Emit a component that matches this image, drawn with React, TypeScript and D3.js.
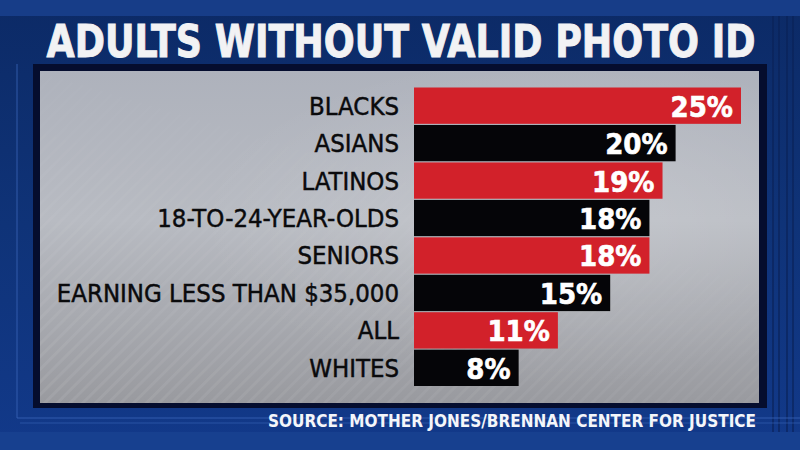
import React from "react";
import * as d3 from "d3";

const categories = [
  "BLACKS",
  "ASIANS",
  "LATINOS",
  "18-TO-24-YEAR-OLDS",
  "SENIORS",
  "EARNING LESS THAN $35,000",
  "ALL",
  "WHITES",
];
const values = [25, 20, 19, 18, 18, 15, 11, 8];
const valueLabels = ["25%", "20%", "19%", "18%", "18%", "15%", "11%", "8%"];
const title = "ADULTS WITHOUT VALID PHOTO ID";
const source = "SOURCE: MOTHER JONES/BRENNAN CENTER FOR JUSTICE";

const W = 800;
const H = 450;
const RED = "#d2212a";
const BLACK = "#050508";
const FONT = "'DejaVu Sans Condensed', 'DejaVu Sans', sans-serif";

export default function App() {
  const x = d3.scaleLinear().domain([0, 25]).range([414, 741]);
  const y = d3
    .scaleBand<string>()
    .domain(categories)
    .range([87.5, 386])
    .paddingInner(0.03);

  return (
    <svg
      width={W}
      height={H}
      viewBox={`0 0 ${W} ${H}`}
      style={{ position: "absolute", left: 0, top: 0, display: "block" }}
    >
      <defs>
        <linearGradient id="bg" x1="0" y1="0" x2="0" y2="1">
          <stop offset="0" stopColor="#0c2a66" />
          <stop offset="0.5" stopColor="#0f3378" />
          <stop offset="1" stopColor="#12398a" />
        </linearGradient>
        <linearGradient id="panel" x1="0" y1="0" x2="0" y2="1">
          <stop offset="0" stopColor="#aeb2bc" />
          <stop offset="0.45" stopColor="#b8bbc2" />
          <stop offset="1" stopColor="#999a9f" />
        </linearGradient>
        <radialGradient id="hl" cx="0.72" cy="0.45" r="0.5">
          <stop offset="0" stopColor="#ffffff" stopOpacity="0.18" />
          <stop offset="1" stopColor="#ffffff" stopOpacity="0" />
        </radialGradient>
        <pattern
          id="stripes"
          width="9"
          height="9"
          patternUnits="userSpaceOnUse"
          patternTransform="rotate(45)"
        >
          <rect width="3" height="9" fill="#ffffff" opacity="0.08" />
        </pattern>
        <linearGradient id="stripeMask" x1="0" y1="1" x2="0.55" y2="0.15">
          <stop offset="0" stopColor="#fff" stopOpacity="1" />
          <stop offset="1" stopColor="#fff" stopOpacity="0" />
        </linearGradient>
        <mask id="sm">
          <rect x="40" y="71" width="719" height="332" fill="url(#stripeMask)" />
        </mask>
      </defs>

      {/* background */}
      <rect x={0} y={0} width={W} height={H} fill="url(#bg)" />
      <rect x={0} y={0} width={W} height={16} fill="#173d88" />
      <rect x={0} y={432} width={W} height={18} fill="#17408f" />
      {[772, 778, 786, 792].map((xx, i) => (
        <rect key={i} x={xx} y={16} width={2} height={416} fill="#0a2257" opacity={0.6} />
      ))}
      <path d="M17,64 V418 H800" fill="none" stroke="#3a64b8" strokeWidth={1} opacity={0.8} />
      <path d="M20,423 H800" fill="none" stroke="#3a64b8" strokeWidth={1} opacity={0.6} />

      {/* panel */}
      <rect x={33} y={64} width={734} height={344} fill="#050d2e" />
      <rect x={40} y={71} width={719} height={332} fill="url(#panel)" />
      <rect x={40} y={71} width={719} height={332} fill="url(#hl)" />
      <rect x={40} y={71} width={719} height={332} fill="url(#stripes)" mask="url(#sm)" />

      {/* title */}
      <g transform="translate(401,57) scale(1,1.11)">
        <text
          x={0}
          y={0}
          textAnchor="middle"
          fill="#f2f2f4"
          stroke="#f2f2f4"
          strokeWidth={0.8}
          fontFamily={FONT}
          fontWeight="bold"
          fontSize={40.5}
        >
          {title}
        </text>
      </g>

      {/* bars */}
      {categories.map((c, i) => {
        const y0 = y(c) as number;
        const bh = y.bandwidth();
        const cy = y0 + bh / 2;
        const fill = i % 2 === 0 ? RED : BLACK;
        return (
          <g key={c}>
            <rect x={x(0)} y={y0} width={x(values[i]) - x(0)} height={bh} fill={fill} />
            <text
              x={399}
              y={cy + 9}
              textAnchor="end"
              fill="#0a0a0c"
              stroke="#0a0a0c"
              strokeWidth={0.45}
              fontFamily={FONT}
              fontSize={25.5}
            >
              {c}
            </text>
            <text
              x={x(values[i]) - 8}
              y={cy + 11}
              textAnchor="end"
              fill="#ffffff"
              stroke="#ffffff"
              strokeWidth={0.6}
              fontFamily={FONT}
              fontWeight="bold"
              fontSize={29}
            >
              {valueLabels[i]}
            </text>
          </g>
        );
      })}

      {/* source */}
      <text
        x={756}
        y={427}
        textAnchor="end"
        fill="#f4f6fa"
        fontFamily={FONT}
        fontWeight="bold"
        fontSize={18}
        textLength={488}
        lengthAdjust="spacingAndGlyphs"
      >
        {source}
      </text>
    </svg>
  );
}
